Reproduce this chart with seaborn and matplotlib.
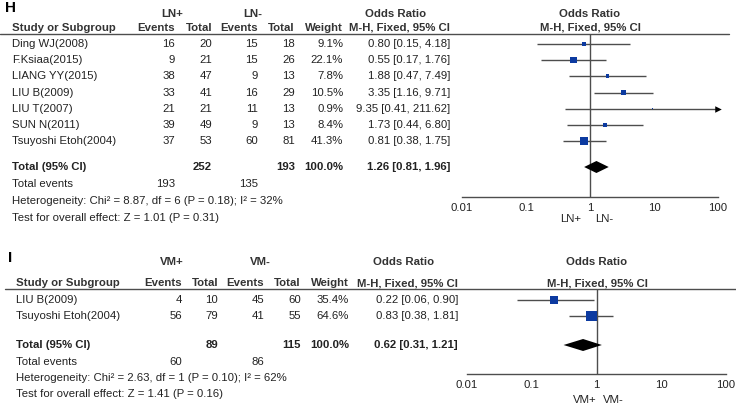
import numpy as np
import pandas as pd
import seaborn as sns
import matplotlib.pyplot as plt

# panel H: LN+ vs LN-
h_study = ['Ding WJ(2008)', 'F.Ksiaa(2015)', 'LIANG YY(2015)', 'LIU B(2009)',
           'LIU T(2007)', 'SUN N(2011)', 'Tsuyoshi Etoh(2004)']
h_ev1 = [16, 9, 38, 33, 21, 39, 37]
h_tot1 = [20, 21, 47, 41, 21, 49, 53]
h_ev2 = [15, 15, 9, 16, 11, 9, 60]
h_tot2 = [18, 26, 13, 29, 13, 13, 81]
h_weight = [9.1, 22.1, 7.8, 10.5, 0.9, 8.4, 41.3]
h_or = [0.80, 0.55, 1.88, 3.35, 9.35, 1.73, 0.81]
h_lo = [0.15, 0.17, 0.47, 1.16, 0.41, 0.44, 0.38]
h_hi = [4.18, 1.76, 7.49, 9.71, 211.62, 6.80, 1.75]
h_total = [252, 193]
h_events = [193, 135]
h_pooled = [1.26, 0.81, 1.96]
h_groups = ['LN+', 'LN-']
h_het = 'Heterogeneity: Chi² = 8.87, df = 6 (P = 0.18); I² = 32%'
h_test = 'Test for overall effect: Z = 1.01 (P = 0.31)'

# panel I: VM+ vs VM-
i_study = ['LIU B(2009)', 'Tsuyoshi Etoh(2004)']
i_ev1 = [4, 56]
i_tot1 = [10, 79]
i_ev2 = [45, 41]
i_tot2 = [60, 55]
i_weight = [35.4, 64.6]
i_or = [0.22, 0.83]
i_lo = [0.06, 0.38]
i_hi = [0.90, 1.81]
i_total = [89, 115]
i_events = [60, 86]
i_pooled = [0.62, 0.31, 1.21]
i_groups = ['VM+', 'VM-']
i_het = 'Heterogeneity: Chi² = 2.63, df = 1 (P = 0.10); I² = 62%'
i_test = 'Test for overall effect: Z = 1.41 (P = 0.16)'

sns.set_style('white')
plt.rcParams['font.family'] = ['Liberation Sans', 'DejaVu Sans']

W, H = 736, 407
FS = 8.2
TXT = '#222222'
HDR = '#333333'
GREY = '#4d4d4d'
BLUE = '#0c3aa0'

fig = plt.figure(figsize=(W / 100, H / 100), dpi=100)
tab = fig.add_axes([0, 0, 1, 1])
tab.set_xlim(0, W)
tab.set_ylim(H, 0)
tab.axis('off')


def panel(letter, study, ev1, tot1, ev2, tot2, weight, orr, lo, hi, total, events,
          pooled, groups, het, test, lay):
    n = len(study)
    rows = [lay['row0'] + i * lay['dy'] for i in range(n)]
    c = lay['cols']

    tab.text(lay['lx'], lay['ly'], letter, fontsize=11, fontweight='bold',
             color='black', va='center', ha='left')

    # header
    h1, h2 = lay['h1'], lay['h2']
    for x, s in zip(lay['gh'], groups):
        tab.text(x, h1, s, fontsize=FS, fontweight='bold', color=HDR,
                 ha='center', va='center')
    tab.text(c[5] - 54, h1, 'Odds Ratio', fontsize=FS, fontweight='bold',
             color=HDR, ha='center', va='center')
    tab.text(lay['pc'], h1, 'Odds Ratio', fontsize=FS, fontweight='bold',
             color=HDR, ha='center', va='center')
    tab.text(lay['nx'], h2, 'Study or Subgroup', fontsize=FS, fontweight='bold',
             color=HDR, ha='left', va='center')
    for x, s in zip(c, ['Events', 'Total', 'Events', 'Total', 'Weight',
                        'M-H, Fixed, 95% CI']):
        tab.text(x, h2, s, fontsize=FS, fontweight='bold', color=HDR,
                 ha='right', va='center')
    tab.text(lay['pc'], h2, 'M-H, Fixed, 95% CI', fontsize=FS, fontweight='bold',
             color=HDR, ha='center', va='center')
    tab.plot([lay['lx0'], lay['lx1']], [lay['line'], lay['line']],
             color=GREY, lw=1)

    # study rows
    for i in range(n):
        y = rows[i]
        tab.text(lay['nx'], y, study[i], fontsize=FS, color=TXT, ha='left', va='center')
        vals = [str(ev1[i]), str(tot1[i]), str(ev2[i]), str(tot2[i]),
                f'{weight[i]:.1f}%', f'{orr[i]:.2f} [{lo[i]:.2f}, {hi[i]:.2f}]']
        for x, s in zip(c, vals):
            tab.text(x, y, s, fontsize=FS, color=TXT, ha='right', va='center')

    # totals
    ty = lay['total']
    tab.text(lay['nx'], ty, 'Total (95% CI)', fontsize=FS, fontweight='bold',
             color=TXT, ha='left', va='center')
    for x, s in zip([c[1], c[3], c[4], c[5]],
                    [str(total[0]), str(total[1]), '100.0%',
                     f'{pooled[0]:.2f} [{pooled[1]:.2f}, {pooled[2]:.2f}]']):
        tab.text(x, ty, s, fontsize=FS, fontweight='bold', color=TXT,
                 ha='right', va='center')
    tab.text(lay['nx'], lay['ev'], 'Total events', fontsize=FS, color=TXT,
             ha='left', va='center')
    tab.text(c[0], lay['ev'], str(events[0]), fontsize=FS, color=TXT,
             ha='right', va='center')
    tab.text(c[2], lay['ev'], str(events[1]), fontsize=FS, color=TXT,
             ha='right', va='center')
    tab.text(lay['nx'], lay['het'], het, fontsize=FS, color=TXT, ha='left', va='center')
    tab.text(lay['nx'], lay['test'], test, fontsize=FS, color=TXT, ha='left', va='center')

    # forest plot
    x0, x1 = lay['px']
    top, bot = lay['line'], lay['axis']
    ax = fig.add_axes([x0 / W, 1 - bot / H, (x1 - x0) / W, (bot - top) / H])
    ax.patch.set_alpha(0)
    ax.set_xscale('log')
    ax.set_xlim(0.01, 100)
    ax.set_ylim(bot, top)
    ax.axvline(1, color=GREY, lw=1)

    df = pd.DataFrame({'or': orr, 'lo': lo, 'hi': hi, 'w': weight, 'y': rows})
    df['hi_c'] = df['hi'].clip(upper=100)
    ax.hlines(df['y'], df['lo'], df['hi_c'], color=GREY, lw=1)
    over = df[df['hi'] > 100]
    ax.scatter(over['hi_c'], over['y'], marker='>', s=22, color='black',
               linewidths=0, clip_on=False, zorder=3)
    sns.scatterplot(data=df, x='or', y='y', size='w', sizes=(0, 92),
                    size_norm=(0, 100), marker='s', color=BLUE, linewidth=0,
                    legend=False, ax=ax, zorder=4, clip_on=False)

    p, pl, ph = pooled
    ax.fill([pl, p, ph, p], [ty, ty - 6, ty, ty + 6], color='black', lw=0, zorder=5)

    ax.set_xticks([0.01, 0.1, 1, 10, 100])
    ax.set_xticklabels(['0.01', '0.1', '1', '10', '100'])
    ax.minorticks_off()
    ax.set_yticks([])
    ax.set_xlabel('')
    ax.set_ylabel('')
    ax.tick_params(axis='x', direction='in', length=5, width=1, color=GREY,
                   labelsize=FS, labelcolor=TXT, pad=4)
    for s in ['top', 'left', 'right']:
        ax.spines[s].set_visible(False)
    ax.spines['bottom'].set_color(GREY)
    ax.spines['bottom'].set_linewidth(1)

    gy = lay['grp']
    tab.text(lay['g'][0], gy, groups[0], fontsize=FS, color=TXT, ha='right', va='center')
    tab.text(lay['g'][1], gy, groups[1], fontsize=FS, color=TXT, ha='left', va='center')


lay_h = dict(lx=5, ly=8, h1=14, h2=28, line=34, lx0=0, lx1=729,
             row0=44, dy=16.17, total=167, ev=184, het=201, test=218,
             axis=197, grp=219, nx=12, cols=[175, 212, 258, 295, 343, 450],
             gh=(172, 253), px=(462, 718), pc=590, g=(581, 595))
lay_i = dict(lx=8, ly=258, h1=262, h2=283, line=289, lx0=5, lx1=736,
             row0=300, dy=16, total=345, ev=362, het=378, test=394,
             axis=374, grp=400, nx=16, cols=[182, 218, 264, 301, 349, 458],
             gh=(172, 260), px=(467, 726), pc=597, g=(597, 603))

panel('H', h_study, h_ev1, h_tot1, h_ev2, h_tot2, h_weight, h_or, h_lo, h_hi,
      h_total, h_events, h_pooled, h_groups, h_het, h_test, lay_h)
panel('I', i_study, i_ev1, i_tot1, i_ev2, i_tot2, i_weight, i_or, i_lo, i_hi,
      i_total, i_events, i_pooled, i_groups, i_het, i_test, lay_i)

fig.savefig('out.png', dpi=100, facecolor='white')
